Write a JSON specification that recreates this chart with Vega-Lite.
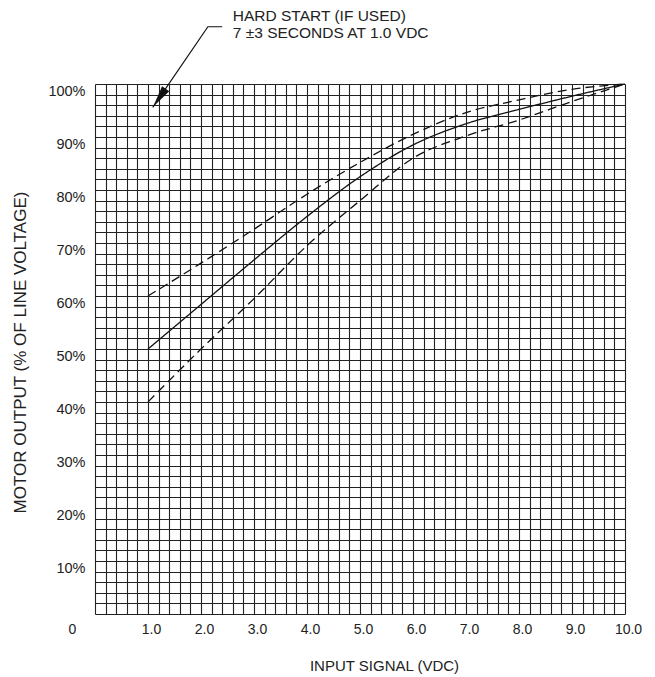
{
  "$schema": "https://vega.github.io/schema/vega-lite/v6.json",
  "width": 530,
  "height": 530,
  "autosize": {"type": "none"},
  "padding": {"left": 95, "top": 84, "right": 30, "bottom": 63},
  "background": "white",
  "config": {
    "view": {"stroke": null},
    "font": "Liberation Sans",
    "axis": {
      "labelFont": "Liberation Sans",
      "titleFont": "Liberation Sans",
      "labelColor": "#222",
      "titleColor": "#222",
      "titleFontWeight": "normal",
      "gridColor": "#222",
      "gridWidth": 1.1,
      "gridOpacity": 1,
      "ticks": false,
      "tickSize": 0,
      "domain": false,
      "labelOverlap": false,
      "labelBound": false,
      "labelFlush": false
    }
  },
  "datasets": {
    "curves": [
      {"series": "nominal", "x": 1, "y": 50},
      {"series": "nominal", "x": 2, "y": 58.4},
      {"series": "nominal", "x": 3, "y": 66.8},
      {"series": "nominal", "x": 4, "y": 75},
      {"series": "nominal", "x": 5, "y": 82.5},
      {"series": "nominal", "x": 6, "y": 88.5},
      {"series": "nominal", "x": 7, "y": 92.5},
      {"series": "nominal", "x": 8, "y": 95.2},
      {"series": "nominal", "x": 9, "y": 97.7},
      {"series": "nominal", "x": 10, "y": 100},
      {"series": "upper", "x": 1, "y": 60},
      {"series": "upper", "x": 2, "y": 66.2},
      {"series": "upper", "x": 3, "y": 72.6},
      {"series": "upper", "x": 4, "y": 79.2},
      {"series": "upper", "x": 5, "y": 85.2},
      {"series": "upper", "x": 6, "y": 90.5},
      {"series": "upper", "x": 7, "y": 94.6},
      {"series": "upper", "x": 8, "y": 97},
      {"series": "upper", "x": 9, "y": 99},
      {"series": "upper", "x": 10, "y": 100},
      {"series": "lower", "x": 1, "y": 40},
      {"series": "lower", "x": 2, "y": 50},
      {"series": "lower", "x": 3, "y": 59.5},
      {"series": "lower", "x": 4, "y": 69.5},
      {"series": "lower", "x": 5, "y": 78},
      {"series": "lower", "x": 6, "y": 86},
      {"series": "lower", "x": 7, "y": 90.2},
      {"series": "lower", "x": 8, "y": 93.2},
      {"series": "lower", "x": 9, "y": 96.7},
      {"series": "lower", "x": 10, "y": 100}
    ],
    "leader": [
      {"order": 1, "x": 2.4, "y": 110.8},
      {"order": 2, "x": 2.13, "y": 110.8},
      {"order": 3, "x": 1.09, "y": 95.6}
    ],
    "arrowhead": [
      {"x": 1.215, "y": 97.4}
    ],
    "note": [
      {"x": 2.6, "y": 112.8, "label": "HARD START (IF USED)"},
      {"x": 2.6, "y": 109.6, "label": "7 ±3 SECONDS AT 1.0 VDC"}
    ]
  },
  "encoding": {
    "x": {
      "field": "x",
      "type": "quantitative",
      "scale": {"domain": [0, 10], "nice": false, "zero": false},
      "axis": {
        "title": "INPUT SIGNAL (VDC)",
        "values": [0,0.2,0.4,0.6,0.8,1,1.2,1.4,1.6,1.8,2,2.2,2.4,2.6,2.8,3,3.2,3.4,3.6,3.8,4,4.2,4.4,4.6,4.8,5,5.2,5.4,5.6,5.8,6,6.2,6.4,6.6,6.8,7,7.2,7.4,7.6,7.8,8,8.2,8.4,8.6,8.8,9,9.2,9.4,9.6,9.8,10],
        "grid": true,
        "labelExpr": "datum.value == 0 ? '0' : (abs(datum.value - round(datum.value)) < 0.001 ? format(datum.value, '.1f') : '')",
        "labelFontSize": 14,
        "labelPadding": 8,
        "labelOffset": {"condition": {"test": "datum.value == 0", "value": -23}, "value": 3},
        "titleFontSize": 15,
        "titleX": 289,
        "titleY": 51,
        "titleAlign": "center",
        "titleBaseline": "middle"
      }
    },
    "y": {
      "field": "y",
      "type": "quantitative",
      "scale": {"domain": [0, 100], "nice": false, "zero": false},
      "axis": {
        "title": "MOTOR OUTPUT (% OF LINE VOLTAGE)",
        "values": [0,2,4,6,8,10,12,14,16,18,20,22,24,26,28,30,32,34,36,38,40,42,44,46,48,50,52,54,56,58,60,62,64,66,68,70,72,74,76,78,80,82,84,86,88,90,92,94,96,98,100],
        "grid": true,
        "labelExpr": "datum.value > 0 && datum.value % 10 == 0 ? datum.value + '%' : ''",
        "labelFontSize": 14.5,
        "labelPadding": 10,
        "labelOffset": 7,
        "titleFontSize": 17,
        "titleX": -75,
        "titleY": 268,
        "titleAlign": "center",
        "titleBaseline": "middle"
      }
    }
  },
  "layer": [
    {
      "data": {"name": "curves"},
      "mark": {"type": "line", "color": "#111", "strokeWidth": 1.3, "interpolate": "monotone"},
      "encoding": {
        "strokeDash": {
          "field": "series",
          "type": "nominal",
          "scale": {"domain": ["nominal", "upper", "lower"], "range": [[1, 0], [9, 5], [9, 5]]},
          "legend": null
        }
      }
    },
    {
      "data": {"name": "leader"},
      "mark": {"type": "line", "color": "#111", "strokeWidth": 1.2},
      "encoding": {"order": {"field": "order", "type": "quantitative"}}
    },
    {
      "data": {"name": "arrowhead"},
      "mark": {"type": "point", "shape": "M0,-1L0.4,1L-0.4,1Z", "filled": true, "color": "#111", "opacity": 1, "size": 484, "angle": 214.7}
    },
    {
      "data": {"name": "note"},
      "mark": {"type": "text", "align": "left", "baseline": "middle", "fontSize": 15.5, "color": "#222", "font": "Liberation Sans"},
      "encoding": {"text": {"field": "label", "type": "nominal"}}
    }
  ]
}
